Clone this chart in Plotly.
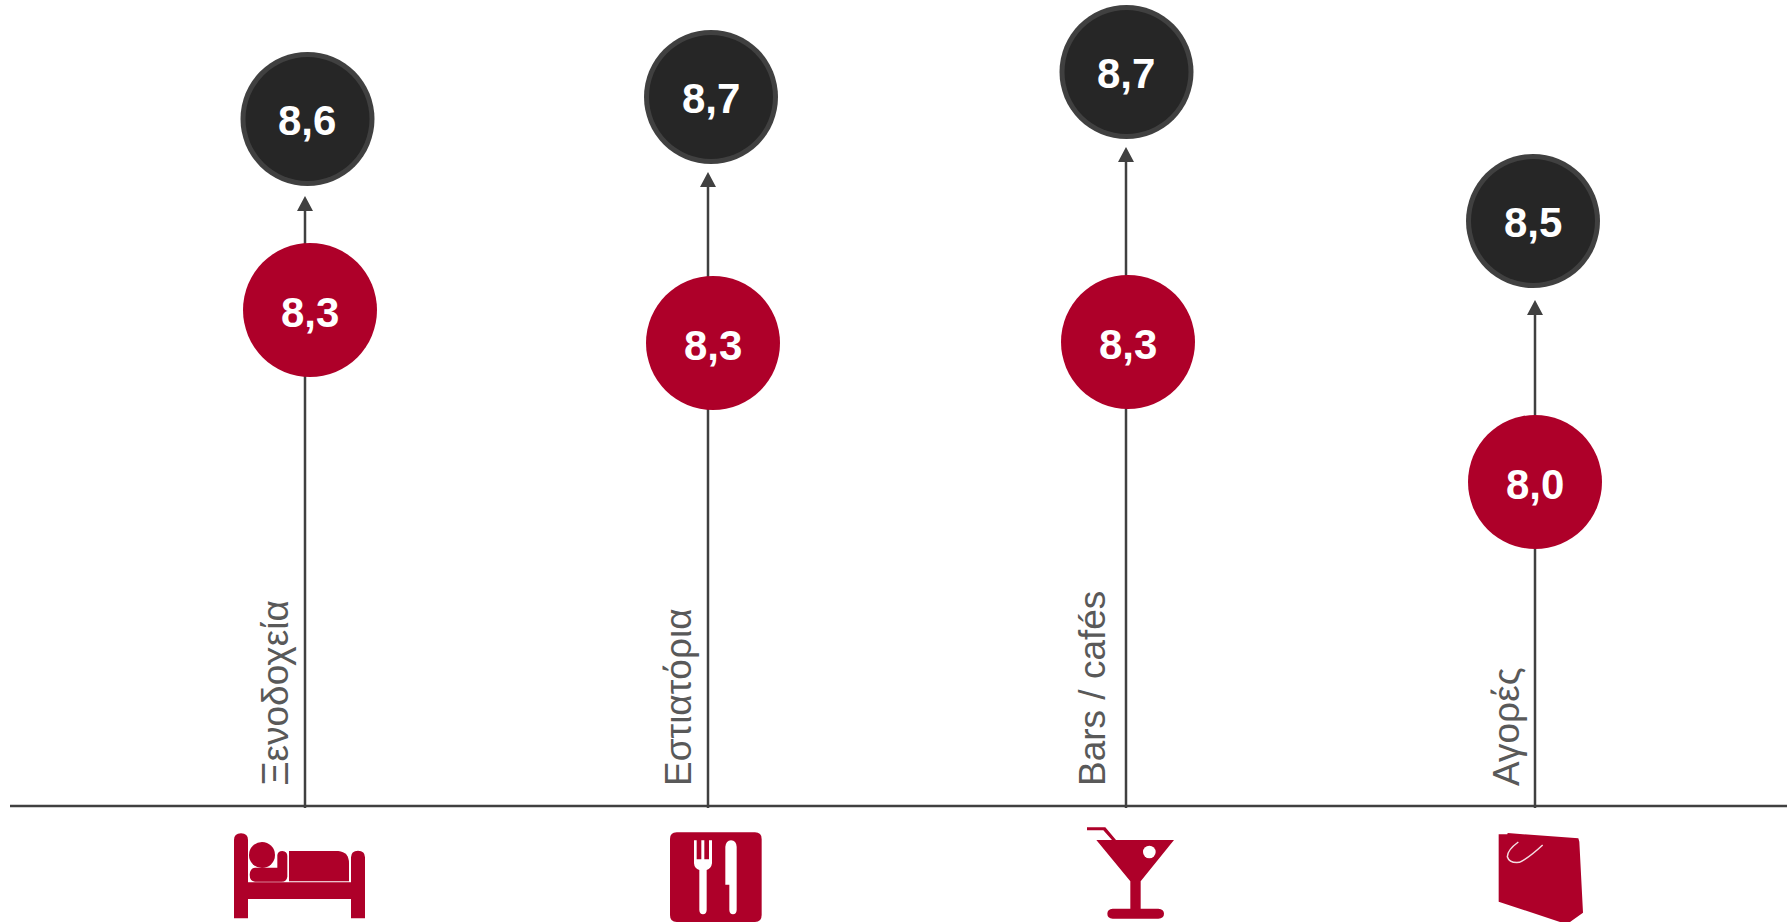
import plotly.graph_objects as go

W, H = 1787, 922
BASE = 806  # baseline row in the picture

categories = ["Ξενοδοχεία", "Εστιατόρια", "Bars / cafés", "Αγορές"]
stem_x = [305, 708, 1126, 1535]
red_x = [310, 713, 1128, 1535]
dark_x = [307.5, 711, 1126.5, 1533]
red_labels = ["8,3", "8,3", "8,3", "8,0"]
dark_labels = ["8,6", "8,7", "8,7", "8,5"]
# heights above the baseline
red_height = [496, 463, 464, 324]
dark_height = [687, 709, 734, 585]
arrow_tip = [610, 634, 659, 506]
label_x = [275, 678, 1092.5, 1506]

RED = "#AE0029"
DARK = "#262626"
RING = "#404040"
LINE = "#404040"
TEXT = "#595959"
R = 67


def pth(ox, oy, cmds):
    out = []
    for c in cmds:
        nums = c[1:]
        pts = []
        for i in range(0, len(nums), 2):
            pts.append(f"{ox + nums[i] / 3:.2f},{BASE - (oy + nums[i + 1] / 3):.2f}")
        out.append(c[0] + " ".join(pts))
    return " ".join(out)


def shp(path, color=RED):
    return dict(type="path", path=path, fillcolor=color, line=dict(width=0), xref="x", yref="y", layer="above")


def circ(cx, cy, r, color):
    return dict(type="circle", xref="x", yref="y", x0=cx - r, x1=cx + r, y0=cy - r, y1=cy + r,
                fillcolor=color, line=dict(color=color, width=0), layer="above")


fig = go.Figure()

# baseline
fig.add_trace(go.Scatter(x=[10, W], y=[0, 0], mode="lines", line=dict(color=LINE, width=2.5), hoverinfo="skip"))

for i in range(4):
    fig.add_trace(go.Scatter(x=[stem_x[i], stem_x[i]], y=[-2, arrow_tip[i] - 12], mode="lines",
                             line=dict(color=LINE, width=2.5), hoverinfo="skip"))
    fig.add_trace(go.Scatter(x=[stem_x[i] - 8, stem_x[i], stem_x[i] + 8],
                             y=[arrow_tip[i] - 15, arrow_tip[i], arrow_tip[i] - 15],
                             mode="lines", fill="toself", fillcolor=LINE, line=dict(width=0), hoverinfo="skip"))

fig.add_trace(go.Scatter(x=red_x, y=red_height, mode="markers",
                         marker=dict(size=2 * R, color=RED, line=dict(width=0)), hoverinfo="skip"))
fig.add_trace(go.Scatter(x=dark_x, y=dark_height, mode="markers",
                         marker=dict(size=2 * R, color=RING, line=dict(width=0)), hoverinfo="skip"))
fig.add_trace(go.Scatter(x=dark_x, y=dark_height, mode="markers",
                         marker=dict(size=2 * R - 10, color=DARK, line=dict(width=0)), hoverinfo="skip"))

annotations = [
    dict(x=label_x[i], y=18, xref="x", yref="y", text=categories[i], showarrow=False, textangle=-90,
         xanchor="center", yanchor="bottom", font=dict(family="Liberation Sans", size=37, color=TEXT))
    for i in range(4)
]
for xs, ys, labels, shift in ((red_x, red_height, red_labels, -2.5), (dark_x, dark_height, dark_labels, -1)):
    for x, y, t in zip(xs, ys, labels):
        annotations.append(dict(x=x, y=y, xref="x", yref="y", text=t, showarrow=False, yshift=shift, xshift=-0.5,
                                xanchor="center", yanchor="middle",
                                font=dict(family="Liberation Sans", size=42, color="white", weight="bold")))

shapes = []
# bed
o = (200, 780)
shapes.append(shp(pth(*o, [("M", 102, 415), ("L", 102, 180), ("Q", 102, 160, 123, 160), ("Q", 144, 160, 144, 180),
                           ("L", 144, 307), ("L", 453, 307), ("L", 453, 232), ("Q", 453, 212, 474, 212),
                           ("Q", 495, 212, 495, 232), ("L", 495, 415), ("L", 453, 415), ("L", 453, 357),
                           ("L", 144, 357), ("L", 144, 415), ("Z",)])))
shapes.append(shp(pth(*o, [("M", 267, 213), ("L", 415, 213), ("Q", 447, 216, 447, 250), ("L", 447, 304),
                           ("L", 267, 304), ("Z",)])))
shapes.append(shp(pth(*o, [("M", 232, 225), ("Q", 234, 213, 247, 213), ("Q", 262, 215, 262, 228), ("L", 262, 290),
                           ("Q", 260, 305, 245, 305), ("L", 165, 305), ("Q", 149, 303, 149, 284),
                           ("Q", 150, 264, 165, 263), ("L", 232, 263), ("Z",)])))
shapes.append(circ(200 + 186 / 3, BASE - (780 + 225 / 3), 39 / 3, RED))
# cutlery
o = (640, 800)
shapes.append(shp(pth(*o, [("M", 110, 97), ("L", 345, 97), ("Q", 365, 97, 365, 117), ("L", 365, 345),
                           ("Q", 365, 366, 345, 366), ("L", 110, 366), ("Q", 90, 366, 90, 345),
                           ("L", 90, 117), ("Q", 90, 97, 110, 97), ("Z",)])))
W_ = "white"
shapes.append(shp(pth(*o, [("M", 162, 121), ("L", 170, 121), ("L", 170, 178), ("L", 184, 178), ("L", 184, 121),
                           ("L", 193, 121), ("L", 193, 178), ("L", 207, 178), ("L", 207, 121), ("L", 216, 121),
                           ("L", 216, 190), ("Q", 214, 205, 200, 210), ("L", 200, 330), ("Q", 199, 343, 189, 343),
                           ("Q", 179, 343, 178, 330), ("L", 178, 210), ("Q", 163, 205, 162, 190), ("Z",)]), W_))
shapes.append(shp(pth(*o, [("M", 256, 140), ("Q", 258, 122, 273, 121), ("Q", 289, 122, 290, 140), ("L", 290, 330),
                           ("Q", 289, 343, 279, 343), ("Q", 269, 343, 268, 330), ("L", 268, 254), ("L", 256, 254),
                           ("Z",)]), W_))
# cocktail
o = (1060, 800)
shapes.append(shp(pth(*o, [("M", 109, 120), ("L", 342, 120), ("L", 242, 244), ("L", 242, 326), ("L", 295, 326),
                           ("Q", 312, 328, 312, 341), ("Q", 312, 355, 295, 356), ("L", 158, 356),
                           ("Q", 142, 355, 142, 341), ("Q", 142, 328, 158, 326), ("L", 211, 326), ("L", 211, 244),
                           ("Z",)])))
shapes.append(shp(pth(*o, [("M", 81, 82), ("L", 136, 82), ("L", 168, 120), ("L", 156, 120), ("L", 130, 91),
                           ("L", 81, 91), ("Z",)])))
shapes.append(circ(1060 + 268 / 3, BASE - (800 + 156 / 3), 19 / 3, "white"))
# shopping bag
o = (1470, 800)
shapes.append(shp(pth(*o, [("M", 86, 103), ("L", 112, 103), ("L", 113, 99), ("L", 325, 115), ("L", 328, 125),
                           ("L", 339, 338), ("L", 300, 366), ("L", 270, 366), ("L", 86, 305), ("Z",)])))
shapes.append(dict(type="path", xref="x", yref="y", layer="above", fillcolor="rgba(0,0,0,0)",
                   line=dict(color="#F3DDE2", width=1.5),
                   path=pth(*o, [("M", 145, 126), ("Q", 112, 150, 112, 170), ("Q", 118, 190, 148, 187),
                                 ("Q", 175, 175, 218, 135)])))

fig.update_layout(
    width=None, height=None,
    margin=dict(l=0, r=0, t=0, b=0),
    paper_bgcolor="white", plot_bgcolor="white",
    showlegend=False,
    xaxis=dict(range=[0, W], visible=False, fixedrange=True),
    yaxis=dict(range=[BASE - H, BASE], visible=False, fixedrange=True),
    annotations=annotations,
    shapes=shapes,
)
fig.write_html("out.html", config={"displayModeBar": False},
               default_width="100%", default_height="100%",
               post_script="document.body.style.margin='0';document.documentElement.style.height='100%';document.body.style.height='100%';window.dispatchEvent(new Event('resize'));")
